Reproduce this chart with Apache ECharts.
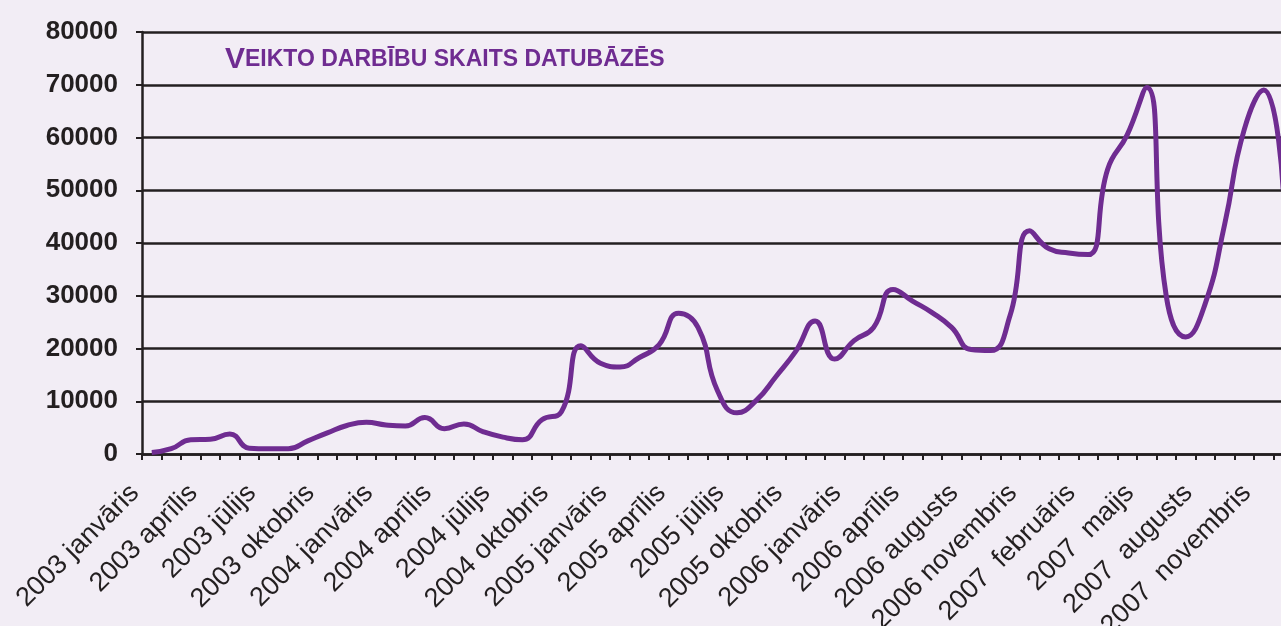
<!DOCTYPE html>
<html>
<head>
<meta charset="utf-8">
<script src="https://cdn.jsdelivr.net/npm/echarts@6/dist/echarts.min.js"></script>
<style>
  html, body { margin: 0; padding: 0; background: #f2edf5; }
  #chart { width: 1281px; height: 626px; }
</style>
</head>
<body>
<div id="chart"></div>
<script>
// mēneši (kategorijas)
var months = [
  '2003 janvāris', '2003 februāris', '2003 marts', '2003 aprīlis', '2003 maijs', '2003 jūnijs',
  '2003 jūlijs', '2003 augusts', '2003 septembris', '2003 oktobris', '2003 novembris', '2003 decembris',
  '2004 janvāris', '2004 februāris', '2004 marts', '2004 aprīlis', '2004 maijs', '2004 jūnijs',
  '2004 jūlijs', '2004 augusts', '2004 septembris', '2004 oktobris', '2004 novembris', '2004 decembris',
  '2005 janvāris', '2005 februāris', '2005 marts', '2005 aprīlis', '2005 maijs', '2005 jūnijs',
  '2005 jūlijs', '2005 augusts', '2005 septembris', '2005 oktobris', '2005 novembris', '2005 decembris',
  '2006 janvāris', '2006 februāris', '2006 marts', '2006 aprīlis', '2006 maijs', '2006 jūnijs',
  '2006 augusts', '2006 septembris', '2006 oktobris', '2006 novembris', '2006 decembris',
  '2007  janvāris', '2007  februāris', '2007  marts', '2007  aprīlis', '2007  maijs', '2007  jūnijs',
  '2007  jūlijs', '2007  augusts', '2007  septembris', '2007  oktobris', '2007  novembris', '2007  decembris'
];

// veikto darbību skaits
var operations = [
  300, 1000, 2700, 2800, 3800, 1100, 1000, 1000, 2500, 4000, 5400, 6000,
  5500, 5300, 6900, 4800, 5700, 4200, 3200, 2700, 6500, 8000, 20500, 17200,
  16500, 18300, 20700, 26700, 24000, 12000, 7800, 10200, 14700, 19400, 25200, 18000,
  21500, 24000, 31200, 29000, 26800, 24000, 19800, 19600, 26300, 42300, 38900,
  38100, 37800, 54000, 60500, 69500, 30000, 22200, 28500, 43600, 61500, 69000, 50000
];

var yTicks = { min: 0, max: 80000, interval: 10000 };

var titleText = 'VEIKTO DARBĪBU SKAITS DATUBĀZĒS';

var sans = "'Liberation Sans', Arial, sans-serif";

var chartDom = echarts.init(document.getElementById('chart'));

chartDom.setOption({
  backgroundColor: '#f2edf5',
  animation: false,
  title: {
    text: '{a|' + titleText.charAt(0) + '}{b|' + titleText.slice(1) + '}',
    left: 220,
    top: 40,
    textStyle: {
      rich: {
        a: { fontFamily: sans, fontWeight: 'bold', fontSize: 30, color: '#6f2c91' },
        b: { fontFamily: sans, fontWeight: 'bold', fontSize: 23, color: '#6f2c91' }
      }
    }
  },
  grid: {
    left: 142,
    top: 32,
    bottom: 172,
    right: -12,
    containLabel: false,
    outerBoundsMode: 'none'
  },
  xAxis: {
    type: 'category',
    data: months,
    boundaryGap: true,
    axisLine: { lineStyle: { color: '#231f20', width: 2.5 } },
    axisTick: { show: true, interval: 0, length: 6, lineStyle: { color: '#231f20', width: 2 } },
    axisLabel: {
      interval: 2,
      rotate: 45,
      margin: 18,
      padding: [0, 24, 0, 0],
      fontFamily: sans,
      fontSize: 27,
      color: '#231f20'
    },
    splitLine: { show: false }
  },
  yAxis: {
    type: 'value',
    min: yTicks.min,
    max: yTicks.max,
    interval: yTicks.interval,
    axisLine: { show: true, lineStyle: { color: '#231f20', width: 2.5 } },
    axisTick: { show: true, length: 6, lineStyle: { color: '#231f20', width: 2 } },
    axisLabel: {
      margin: 24,
      fontFamily: sans,
      fontWeight: 'bold',
      fontSize: 26,
      color: '#231f20',
      formatter: function (v) { return String(v); }
    },
    splitLine: { show: true, lineStyle: { color: '#231f20', width: 2.5 } }
  },
  series: [{
    type: 'line',
    data: operations,
    smooth: 0.5,
    showSymbol: false,
    lineStyle: { color: '#6f2c91', width: 5 },
    clip: true
  }]
});
</script>
</body>
</html>
